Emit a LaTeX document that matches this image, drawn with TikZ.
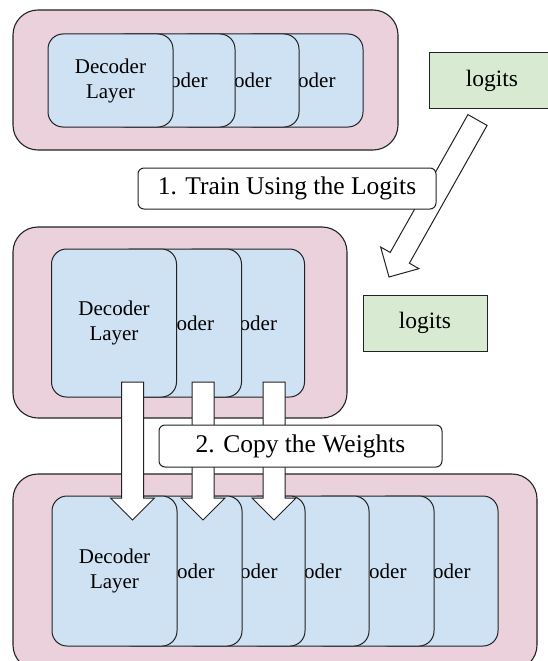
\documentclass[tikz,border=0pt]{standalone}
\usepackage{fontspec}
\setmainfont{Liberation Serif}
\usetikzlibrary{calc}
\definecolor{stackpink}{HTML}{EAD1DC}
\definecolor{layerblue}{HTML}{CFE2F3}
\definecolor{logitgreen}{HTML}{D9EAD3}
\definecolor{edge}{HTML}{222222}

% Block arrow from tail point #1 to tip point #2
\newcommand\blockarrow[2]{%
  \coordinate (#1-hb) at ($(#2)!22pt!(#1)$);
  \draw[blockarrow] ($(#1)!11pt!90:(#2)$) -- ($(#1-hb)!11pt!90:(#2)$)
    -- ($(#1-hb)!22pt!90:(#2)$) -- (#2) -- ($(#1-hb)!22pt!-90:(#2)$)
    -- ($(#1-hb)!11pt!-90:(#2)$) -- ($(#1)!11pt!-90:(#2)$) -- cycle;}

% Layer box lying behind the next one: only the tail of its name shows
\newcommand\backlayer[4]{% name, x, y, height
  \node[layer, minimum height=#4] (#1) at (#2,#3) {};
  \node[peek] (#1-txt) at ($(#1.west)+(60.5,7)$) {oder};}

\begin{document}
\begin{tikzpicture}[x=1pt,y=-1pt,
  stack/.style={draw=edge, fill=stackpink, line width=1.1pt, rounded corners=25pt,
    inner sep=0pt},
  layer/.style={draw=edge, fill=layerblue, line width=1pt, rounded corners=15pt,
    inner sep=0pt, minimum width=125pt, align=center,
    font=\fontsize{21}{25}\selectfont},
  peek/.style={anchor=base west, inner sep=0pt, font=\fontsize{21}{25}\selectfont},
  logitbox/.style={draw=edge, fill=logitgreen, line width=1pt, inner sep=0pt,
    minimum width=125pt, minimum height=55pt, font=\fontsize{23.5}{28}\selectfont},
  steplabel/.style={draw=edge, fill=white, line width=1pt, rounded corners=6pt,
    inner sep=0pt, font=\fontsize{25.5}{30}\selectfont},
  blockarrow/.style={draw=edge, fill=white, line width=1pt, line join=miter}]
\useasboundingbox (0,0) rectangle (547,661);

% ---- small model (4 layers) ----
\node[stack, minimum width=385pt, minimum height=140pt] (stackA) at (205.5,80) {};
\backlayer{a4}{300.5}{80.5}{93pt}
\backlayer{a3}{236.5}{80.5}{93pt}
\backlayer{a2}{172.5}{80.5}{93pt}
\node[layer, minimum height=93pt] (a1) at (110.5,80.5) {Decoder\\Layer};

\node[logitbox] (logitsA) at (492,80.5) {logits};

% ---- trained small model (3 layers) ----
\node[stack, minimum width=334pt, minimum height=191pt] (stackB) at (180,322.5) {};
\backlayer{b3}{242}{323}{148pt}
\backlayer{b2}{179}{323}{148pt}
\node[layer, minimum height=148pt] (b1) at (114,323) {Decoder\\Layer};

\node[logitbox, minimum width=124pt, minimum height=56pt] (logitsB) at (425,323) {logits};

% ---- large model (6 layers) ----
\node[stack, minimum width=524pt, minimum height=196pt] (stackC) at (275,572) {};
\backlayer{c6}{435.5}{571}{150pt}
\backlayer{c5}{371.5}{571}{150pt}
\backlayer{c4}{306.5}{571}{150pt}
\backlayer{c3}{242.5}{571}{150pt}
\backlayer{c2}{179.5}{571}{150pt}
\node[layer, minimum height=150pt] (c1) at (114.5,571) {Decoder\\Layer};

% ---- arrows ----
\coordinate (trainTail) at (477.5,120);
\coordinate (trainTip) at (389,277);
\blockarrow{trainTail}{trainTip}

\coordinate (copyTailA) at (132.5,382);
\coordinate (copyTipA) at (132.5,520);
\coordinate (copyTailB) at (203,382);
\coordinate (copyTipB) at (203,520);
\coordinate (copyTailC) at (274,382);
\coordinate (copyTipC) at (274,520);
\blockarrow{copyTailA}{copyTipA}
\blockarrow{copyTailB}{copyTipB}
\blockarrow{copyTailC}{copyTipC}

% ---- step labels ----
\node[steplabel, minimum width=298pt, minimum height=41pt] (stepOne) at (287,188.5)
  {1. Train Using the Logits};
\node[steplabel, minimum width=283pt, minimum height=42pt] (stepTwo) at (300.5,446)
  {2. Copy the Weights};
\end{tikzpicture}
\end{document}
